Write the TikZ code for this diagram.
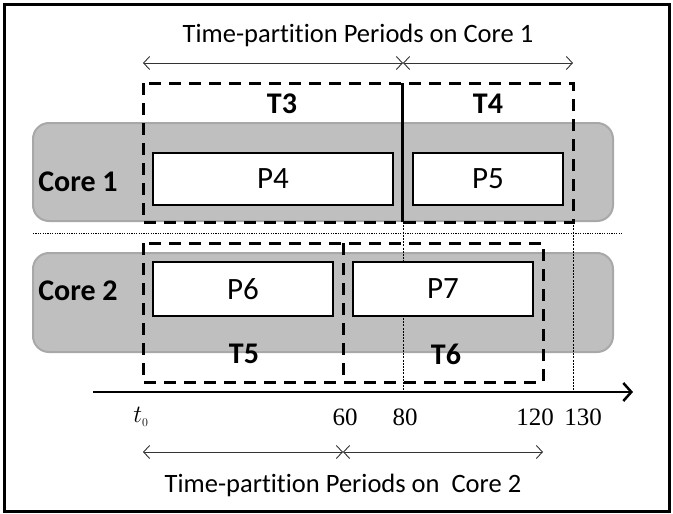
\documentclass[tikz,border=0pt]{standalone}
\usepackage{fontspec}
\setmainfont{Carlito}[Ligatures=CommonOff]
\newfontfamily\numfont{Liberation Serif}
\usetikzlibrary{arrows.meta}
\definecolor{coregray}{HTML}{BFBFBF}
\definecolor{coreedge}{HTML}{A8A8A8}
\tikzset{
  corebox/.style={fill=coregray,draw=coreedge,line width=2pt,rounded corners=16pt},
  pbox/.style={draw=black,fill=white,line width=2.5pt},
  tbox/.style={draw=black,line width=3pt,dash pattern=on 12pt off 8pt},
  marker/.style={draw=black,line width=0.8pt,dash pattern=on 2pt off 1.2pt},
  span/.style={draw=black!80,line width=0.9pt,{Straight Barb[length=6pt,width=13pt]}-{Straight Barb[length=6pt,width=13pt]}},
  lbl/.style={font=\fontsize{26.5}{28}\selectfont,inner sep=0pt},
  corelbl/.style={font=\fontsize{30}{32}\selectfont\bfseries,inner sep=0pt},
  plbl/.style={font=\fontsize{31}{33}\selectfont},
  numlbl/.style={font=\fontsize{25}{27}\selectfont\numfont,inner sep=0pt},
}
\begin{document}
\begin{tikzpicture}[x=1pt,y=-1pt]
\useasboundingbox (0,0) rectangle (673,514);
\draw[line width=3pt] (4.5,4.5) rectangle (669.5,511);
% core backgrounds
\draw[corebox] (33,123) rectangle (613,221);
\draw[corebox] (33,253) rectangle (613,352);
% separator
\draw[line width=1pt,dash pattern=on 1.2pt off 1.2pt] (33,233) -- (622,233);
% time markers
\coordinate (m80t) at (403,222);
\coordinate (m80b) at (403,392);
\coordinate (m130t) at (573,222);
\coordinate (m130b) at (573,392);
\draw[marker] (m80t) -- (m80b);
\draw[marker] (m130t) -- (m130b);
% Core 1 partitions
\draw[tbox] (143,83) rectangle (573,222);
\draw[black,line width=2.5pt] (402.5,83) -- (402.5,222);
\node[pbox,minimum width=240pt,minimum height=52pt,plbl] (P4) at (273,179) {P4};
\node[pbox,minimum width=150pt,minimum height=52pt,plbl] (P5) at (488,179) {P5};
\node[corelbl] (T3) at (282,104) {T3};
\node[corelbl] (T4) at (488,104) {T4};
\node[corelbl] (C1) at (78,182) {Core 1};
% Core 2 partitions
\draw[tbox] (143,243) rectangle (543,382);
\draw[tbox] (343,243) -- (343,382);
\node[pbox,minimum width=180pt,minimum height=54pt,plbl] (P6) at (243,289) {P6};
\node[pbox,minimum width=180pt,minimum height=54pt,plbl] (P7) at (443,289) {P7};
\node[corelbl] (T5) at (244,354) {T5};
\node[corelbl] (T6) at (446,354) {T6};
\node[corelbl] (C2) at (78,291) {Core 2};
% time axis
\coordinate (ax0) at (93,392);
\coordinate (ax1) at (633,392);
\draw[line width=2.5pt,-{Straight Barb[length=8pt,width=18pt]}] (ax0) -- (ax1);
\node[numlbl] (t0) at (141,417) {$t_{\scriptscriptstyle 0}$};
\node[numlbl] (n60) at (345,417) {60};
\node[numlbl] (n80) at (405,417) {80};
\node[numlbl] (n120) at (535,417) {120};
\node[numlbl] (n130) at (583,417) {130};
% spans core 1
\coordinate (a1) at (143,63);
\coordinate (a2) at (403,63);
\coordinate (a3) at (573,63);
\draw[span] (a1) -- (a2);
\draw[span] (a2) -- (a3);
\node[lbl] (top) at (358,35) {Time-partition Periods on Core 1};
% spans core 2
\coordinate (b1) at (143,452);
\coordinate (b2) at (343,452);
\coordinate (b3) at (543,452);
\draw[span] (b1) -- (b2);
\draw[span] (b2) -- (b3);
\node[lbl] (bot) at (343,485) {Time-partition Periods on\ \ Core 2};
\end{tikzpicture}
\end{document}
